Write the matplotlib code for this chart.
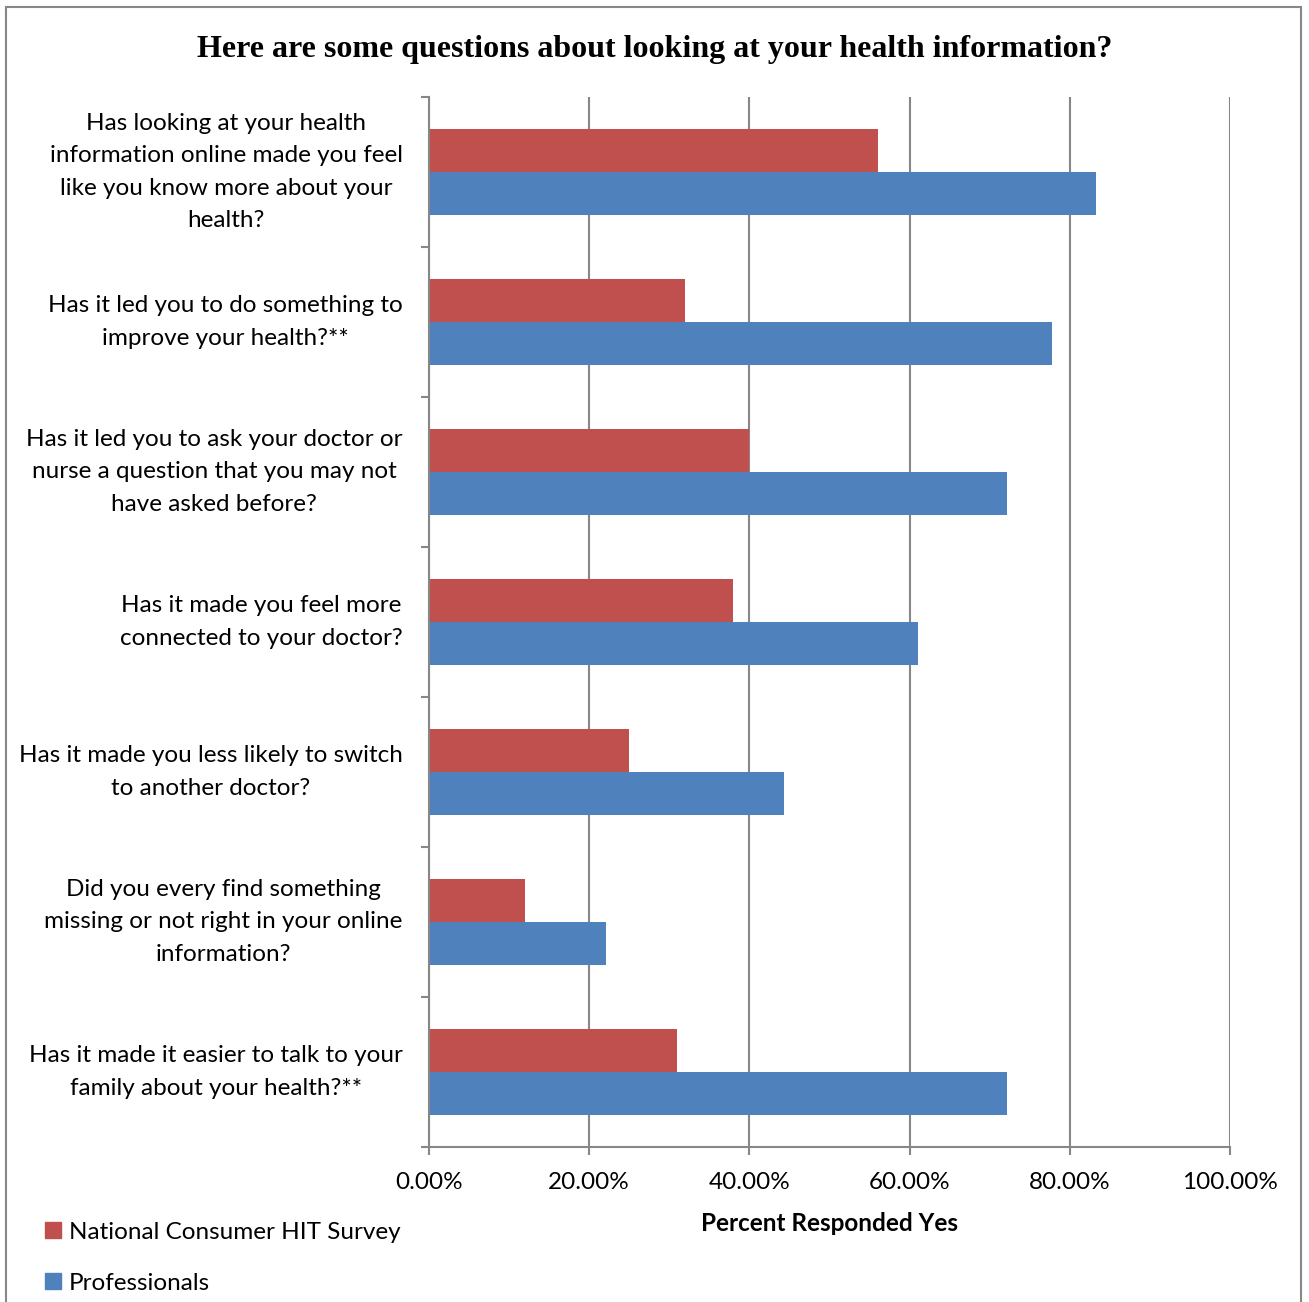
import numpy as np
import matplotlib.pyplot as plt
from matplotlib.patches import Rectangle, Patch

questions = [
    "Has looking at your health\ninformation online made you feel\nlike you know more about your\nhealth?",
    "Has it led you to do something to\nimprove your health?**",
    "Has it led you to ask your doctor or\nnurse a question that you may not\nhave asked before?",
    "Has it made you feel more\nconnected to your doctor?",
    "Has it made you less likely to switch\nto another doctor?",
    "Did you every find something\nmissing or not right in your online\ninformation?",
    "Has it made it easier to talk to your\nfamily about your health?**",
]
national = [56.0, 32.0, 40.0, 38.0, 25.0, 12.0, 31.0]
professionals = [83.3, 77.8, 72.2, 61.0, 44.3, 22.1, 72.2]
tick_vals = [0, 20, 40, 60, 80, 100]
tick_labels = ["0.00%", "20.00%", "40.00%", "60.00%", "80.00%", "100.00%"]

red = "#C0504D"
blue = "#4F81BD"
grey = "#878787"
font = "Lato"
fs = 17.5

fig = plt.figure(figsize=(13.09, 13.02), dpi=100)
ax = fig.add_axes([429/1309, 1-1147/1302, (1230-429)/1309, (1147-97)/1302])

y = np.arange(len(questions))
h = 0.285
ax.barh(y - h/2, national, height=h, color=red, zorder=3)
ax.barh(y + h/2, professionals, height=h, color=blue, zorder=3)

ax.set_xlim(0, 100)
ax.set_ylim(len(questions) - 0.5, -0.5)

ax.set_xticks(tick_vals)
ax.set_xticklabels(tick_labels, fontsize=fs, family=font)
ax.set_yticks(y)
ax.set_yticklabels(questions, fontsize=fs, family=font, ha="right", va="center",
                   multialignment="center", linespacing=1.68)
ax.set_yticks(np.arange(len(questions) + 1) - 0.5, minor=True)

ax.tick_params(axis="y", which="major", length=0, pad=19)
ax.tick_params(axis="y", which="minor", length=6, width=1.5, color=grey)
ax.tick_params(axis="x", length=6, width=1.5, color=grey, pad=12)

ax.grid(axis="x", color=grey, linewidth=1.5, zorder=0)
for s in ["top", "right"]:
    ax.spines[s].set_visible(False)
for s in ["left", "bottom"]:
    ax.spines[s].set_color(grey)
    ax.spines[s].set_linewidth(1.5)
    ax.spines[s].set_zorder(4)

ax.set_xlabel("Percent Responded Yes", fontsize=fs, family=font, fontweight="bold", labelpad=14)

fig.text(0.5, 1-49/1302, "Here are some questions about looking at your health information?",
         ha="center", va="center", fontsize=23, family="Liberation Serif", fontweight="bold")

handles = [Patch(color=red, label="National Consumer HIT Survey"),
           Patch(color=blue, label="Professionals")]
fig.legend(handles=handles, loc="upper left", bbox_to_anchor=(0.018, 1-1200/1302), frameon=False,
           prop={"family": font, "size": fs}, handlelength=0.65, handleheight=0.65,
           handletextpad=0.3, labelspacing=1.22)

fig.patches.append(Rectangle((6/1309, -0.01), (1301-6)/1309, 1-7/1302+0.01,
                             transform=fig.transFigure, fill=False, edgecolor=grey, linewidth=1.5))

fig.savefig("out.png", dpi=100)
